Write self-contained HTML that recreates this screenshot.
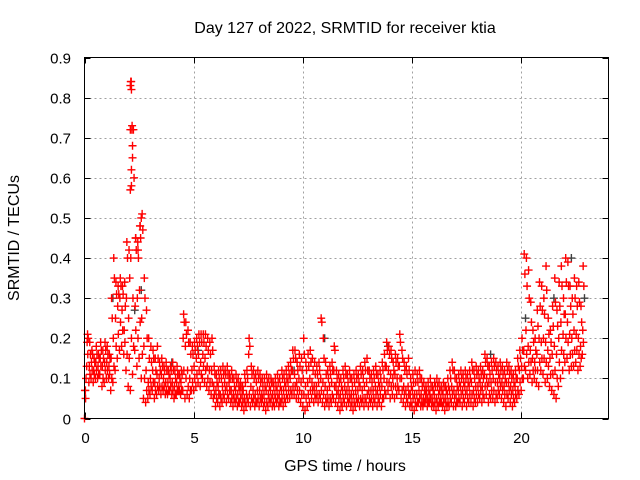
<!DOCTYPE html>
<html><head><meta charset="utf-8"><style>
body{margin:0;background:#fff}
svg{display:block;font-family:"Liberation Sans",sans-serif}
</style></head><body>
<svg id="chart" width="640" height="480">
<rect width="640" height="480" fill="#fff"/>
<text x="345" y="33" font-size="16" text-anchor="middle">Day 127 of 2022, SRMTID for receiver ktia</text>
<text x="345" y="471" font-size="16" text-anchor="middle">GPS time / hours</text>
<text x="0" y="0" font-size="16" text-anchor="middle" transform="translate(19,238) rotate(-90)">SRMTID / TECUs</text>
<g id="grid"></g>
<g id="ticks"></g>
<g id="marks"></g>
<rect x="84.5" y="57.5" width="524" height="361" fill="none" stroke="#000" stroke-width="1"/>
</svg>
<script>
const xTicks=[0,5,10,15,20];
const yTicks=[0,0.1,0.2,0.3,0.4,0.5,0.6,0.7,0.8,0.9];
const yTickLabels=["0","0.1","0.2","0.3","0.4","0.5","0.6","0.7","0.8","0.9"];
const timeStep=0.1;
const hiVals=[0.07,0.21,0.19,0.17,0.15,0.18,0.16,0.19,0.17,0.19,
0.18,0.16,0.30,0.40,0.34,0.33,0.35,0.33,0.34,0.44,
0.42,0.84,0.72,0.45,0.44,0.48,0.51,0.35,0.27,0.20,
0.18,0.17,0.15,0.18,0.14,0.15,0.13,0.14,0.12,0.13,
0.14,0.12,0.13,0.11,0.12,0.26,0.24,0.22,0.19,0.18,
0.19,0.20,0.21,0.21,0.21,0.21,0.20,0.19,0.20,0.13,
0.11,0.12,0.12,0.13,0.12,0.13,0.11,0.12,0.10,0.11,
0.10,0.09,0.08,0.11,0.12,0.20,0.13,0.12,0.11,0.12,
0.11,0.10,0.10,0.11,0.10,0.10,0.09,0.10,0.11,0.10,
0.12,0.11,0.12,0.13,0.14,0.17,0.17,0.14,0.16,0.15,
0.20,0.14,0.16,0.17,0.15,0.14,0.13,0.14,0.25,0.20,
0.14,0.12,0.13,0.14,0.18,0.12,0.11,0.10,0.12,0.13,
0.11,0.12,0.10,0.11,0.12,0.11,0.13,0.12,0.14,0.15,
0.12,0.11,0.12,0.13,0.11,0.12,0.14,0.16,0.19,0.18,
0.17,0.14,0.16,0.15,0.21,0.17,0.14,0.13,0.15,0.10,
0.11,0.12,0.11,0.12,0.10,0.09,0.08,0.09,0.10,0.08,
0.09,0.10,0.09,0.08,0.09,0.08,0.10,0.12,0.14,0.12,
0.10,0.11,0.12,0.11,0.12,0.11,0.12,0.14,0.12,0.13,
0.12,0.13,0.12,0.16,0.15,0.13,0.14,0.15,0.14,0.13,
0.14,0.13,0.12,0.14,0.13,0.12,0.11,0.12,0.15,0.17,
0.20,0.41,0.40,0.37,0.29,0.22,0.20,0.27,0.34,0.33,
0.30,0.38,0.25,0.22,0.28,0.35,0.27,0.34,0.38,0.30,
0.40,0.39,0.33,0.30,0.35,0.33,0.34,0.28,0.38];
const upperVals=[0.10,0.20,0.16,0.16,0.14,0.16,0.15,0.17,0.15,0.17,
0.16,0.15,0.25,0.35,0.31,0.31,0.33,0.31,0.28,0.40,
0.35,0.72,0.60,0.42,0.40,0.45,0.47,0.30,0.20,0.15,
0.14,0.15,0.12,0.15,0.12,0.13,0.12,0.12,0.11,0.12,
0.12,0.10,0.11,0.10,0.11,0.24,0.21,0.19,0.16,0.16,
0.17,0.18,0.19,0.19,0.19,0.18,0.17,0.16,0.17,0.11,
0.09,0.10,0.10,0.11,0.11,0.11,0.10,0.10,0.08,0.09,
0.08,0.08,0.07,0.09,0.10,0.18,0.11,0.10,0.09,0.10,
0.09,0.08,0.08,0.09,0.08,0.09,0.08,0.08,0.09,0.08,
0.10,0.09,0.10,0.11,0.12,0.15,0.15,0.12,0.13,0.12,
0.16,0.12,0.13,0.14,0.12,0.11,0.11,0.12,0.24,0.15,
0.11,0.10,0.11,0.12,0.17,0.10,0.09,0.08,0.10,0.11,
0.09,0.10,0.08,0.09,0.10,0.09,0.11,0.10,0.12,0.12,
0.10,0.09,0.10,0.11,0.09,0.10,0.12,0.13,0.17,0.16,
0.15,0.12,0.14,0.13,0.19,0.15,0.12,0.11,0.12,0.08,
0.09,0.09,0.09,0.10,0.08,0.07,0.07,0.07,0.08,0.07,
0.08,0.08,0.07,0.07,0.08,0.07,0.08,0.10,0.12,0.10,
0.08,0.09,0.10,0.09,0.10,0.09,0.10,0.12,0.10,0.11,
0.10,0.11,0.10,0.14,0.13,0.11,0.12,0.13,0.12,0.11,
0.12,0.11,0.10,0.12,0.11,0.10,0.09,0.10,0.13,0.15,
0.17,0.36,0.33,0.30,0.24,0.19,0.17,0.23,0.28,0.27,
0.26,0.32,0.21,0.19,0.23,0.29,0.23,0.28,0.33,0.26,
0.34,0.33,0.28,0.26,0.30,0.28,0.29,0.24,0.33];
const midVals=[0.07,0.19,0.13,0.14,0.12,0.14,0.13,0.15,0.13,0.14,
0.14,0.13,0.15,0.20,0.25,0.28,0.30,0.27,0.22,0.30,
0.25,0.40,0.30,0.28,0.30,0.32,0.25,0.18,0.12,0.09,
0.10,0.12,0.09,0.11,0.10,0.11,0.10,0.09,0.09,0.10,
0.09,0.08,0.09,0.08,0.09,0.20,0.18,0.12,0.10,0.12,
0.13,0.15,0.16,0.14,0.16,0.15,0.13,0.12,0.12,0.08,
0.07,0.08,0.06,0.08,0.09,0.08,0.09,0.07,0.06,0.07,
0.06,0.07,0.06,0.05,0.06,0.16,0.08,0.07,0.06,0.07,
0.07,0.06,0.06,0.07,0.06,0.07,0.06,0.06,0.07,0.06,
0.07,0.07,0.08,0.09,0.10,0.12,0.11,0.09,0.10,0.09,
0.10,0.08,0.09,0.10,0.09,0.08,0.08,0.09,0.10,0.09,
0.08,0.07,0.08,0.09,0.12,0.08,0.07,0.06,0.07,0.08,
0.07,0.07,0.06,0.06,0.07,0.07,0.08,0.07,0.08,0.09,
0.07,0.07,0.07,0.08,0.07,0.08,0.08,0.10,0.13,0.12,
0.11,0.10,0.11,0.10,0.13,0.10,0.08,0.07,0.08,0.06,
0.07,0.06,0.06,0.07,0.06,0.05,0.06,0.05,0.06,0.05,
0.06,0.05,0.06,0.05,0.06,0.05,0.06,0.07,0.08,0.07,
0.06,0.07,0.08,0.07,0.08,0.07,0.08,0.09,0.07,0.08,
0.08,0.09,0.08,0.11,0.10,0.09,0.09,0.10,0.09,0.09,
0.10,0.09,0.08,0.09,0.09,0.08,0.07,0.08,0.10,0.12,
0.13,0.17,0.22,0.18,0.17,0.15,0.14,0.16,0.20,0.19,
0.20,0.19,0.17,0.15,0.16,0.18,0.16,0.20,0.24,0.21,
0.26,0.24,0.21,0.20,0.22,0.21,0.20,0.18,0.22];
const lowerVals=[0.05,0.16,0.11,0.12,0.11,0.12,0.11,0.13,0.10,0.12,
0.12,0.11,0.10,0.13,0.18,0.21,0.24,0.22,0.19,0.16,
0.15,0.20,0.18,0.22,0.20,0.24,0.16,0.10,0.07,0.07,
0.08,0.09,0.07,0.08,0.08,0.08,0.08,0.07,0.07,0.08,
0.07,0.06,0.07,0.07,0.07,0.12,0.10,0.08,0.07,0.09,
0.10,0.11,0.12,0.11,0.13,0.12,0.10,0.09,0.09,0.06,
0.05,0.06,0.05,0.06,0.07,0.06,0.07,0.05,0.05,0.05,
0.04,0.05,0.04,0.04,0.05,0.06,0.05,0.05,0.04,0.05,
0.05,0.05,0.04,0.04,0.05,0.05,0.04,0.05,0.05,0.04,
0.05,0.05,0.06,0.07,0.07,0.08,0.08,0.07,0.07,0.06,
0.06,0.05,0.06,0.07,0.07,0.06,0.06,0.06,0.07,0.06,
0.05,0.05,0.05,0.06,0.08,0.06,0.05,0.04,0.05,0.06,
0.05,0.05,0.04,0.04,0.05,0.05,0.05,0.05,0.05,0.06,
0.05,0.05,0.05,0.06,0.05,0.06,0.05,0.07,0.09,0.09,
0.08,0.08,0.08,0.08,0.10,0.07,0.06,0.05,0.06,0.04,
0.05,0.04,0.04,0.05,0.04,0.04,0.05,0.04,0.05,0.04,
0.04,0.04,0.04,0.04,0.04,0.04,0.04,0.05,0.06,0.05,
0.04,0.05,0.06,0.05,0.06,0.05,0.06,0.06,0.05,0.06,
0.06,0.07,0.06,0.08,0.08,0.06,0.07,0.07,0.06,0.07,
0.08,0.07,0.06,0.06,0.07,0.06,0.05,0.06,0.07,0.09,
0.10,0.13,0.16,0.14,0.14,0.12,0.12,0.12,0.14,0.15,
0.15,0.14,0.13,0.11,0.11,0.12,0.10,0.14,0.17,0.16,
0.20,0.19,0.16,0.16,0.17,0.17,0.16,0.15,0.19];
const loVals=[0.00,0.13,0.09,0.10,0.09,0.10,0.10,0.11,0.08,0.09,
0.10,0.10,0.07,0.09,0.12,0.15,0.17,0.18,0.16,0.12,
0.08,0.07,0.11,0.17,0.13,0.15,0.10,0.05,0.04,0.05,
0.06,0.07,0.05,0.06,0.07,0.06,0.07,0.06,0.06,0.07,
0.06,0.05,0.06,0.07,0.06,0.07,0.05,0.06,0.05,0.07,
0.07,0.08,0.09,0.08,0.10,0.09,0.08,0.07,0.06,0.05,
0.03,0.04,0.03,0.04,0.05,0.04,0.05,0.04,0.03,0.04,
0.03,0.04,0.03,0.02,0.03,0.04,0.03,0.04,0.03,0.04,
0.03,0.04,0.03,0.02,0.03,0.04,0.03,0.03,0.04,0.03,
0.04,0.03,0.04,0.05,0.05,0.06,0.06,0.05,0.05,0.04,
0.03,0.02,0.03,0.04,0.05,0.04,0.05,0.04,0.05,0.04,
0.03,0.04,0.03,0.04,0.05,0.04,0.03,0.02,0.03,0.04,
0.03,0.04,0.03,0.02,0.03,0.04,0.03,0.04,0.03,0.04,
0.03,0.04,0.03,0.04,0.03,0.04,0.03,0.05,0.06,0.07,
0.05,0.06,0.05,0.06,0.07,0.05,0.04,0.03,0.04,0.03,
0.03,0.02,0.03,0.04,0.03,0.03,0.04,0.03,0.04,0.03,
0.03,0.02,0.03,0.04,0.03,0.02,0.03,0.03,0.04,0.03,
0.03,0.04,0.04,0.03,0.04,0.03,0.04,0.04,0.03,0.04,
0.04,0.05,0.04,0.05,0.06,0.04,0.05,0.05,0.04,0.05,
0.06,0.05,0.04,0.03,0.05,0.04,0.03,0.04,0.05,0.06,
0.07,0.10,0.12,0.10,0.11,0.09,0.10,0.09,0.08,0.12,
0.11,0.09,0.10,0.08,0.07,0.06,0.05,0.08,0.10,0.12,
0.14,0.15,0.12,0.13,0.13,0.14,0.12,0.13,0.16];
const peakTimes=[2.1,2.12,2.15,2.1,2.18,2.2,2.2,2.15,2.1,2.15,2.35,2.45,2.55,2.6];
const peakVals=[0.83,0.84,0.82,0.72,0.73,0.68,0.65,0.62,0.57,0.58,0.45,0.42,0.48,0.50];
const blackTimes=[1.3,2.3,2.6,4.0,5.2,9.6,11.0,13.9,18.6,20.2,21.5,22.3,22.9];
const blackVals=[0.30,0.27,0.32,0.14,0.17,0.12,0.20,0.18,0.16,0.25,0.30,0.40,0.30];

const NS="http://www.w3.org/2000/svg";
const X0=84.5,X1=608.5,Y0=418.5,Y1=57.5;
function xs(t){return X0+(t/24)*(X1-X0);}
function ys(v){return Y0-(v/0.9)*(Y0-Y1);}
const grid=document.getElementById('grid'),ticks=document.getElementById('ticks'),marks=document.getElementById('marks');
function line(g,x1,y1,x2,y2,st,dash){const l=document.createElementNS(NS,'line');l.setAttribute('x1',x1);l.setAttribute('y1',y1);l.setAttribute('x2',x2);l.setAttribute('y2',y2);l.setAttribute('stroke',st);if(dash)l.setAttribute('stroke-dasharray',dash);g.appendChild(l);return l;}
function txt(s,x,y,anchor){const t=document.createElementNS(NS,'text');t.setAttribute('x',x);t.setAttribute('y',y);t.setAttribute('font-size','15');t.setAttribute('text-anchor',anchor);t.textContent=s;ticks.appendChild(t);return t;}
xTicks.forEach(function(v){
  const x=Math.round(xs(v))+0.5;
  if(v>0){const g=line(grid,x,Y0,x,Y1,'#a0a0a0','2,3');
  
  }
  const a=line(ticks,x,Y0,x,Y0-6,'#000');
  
  
  const b=line(ticks,x,Y1,x,Y1+6,'#000');
  
  
  const t=txt(String(v),x,443,'middle');
  
  
});
yTicks.forEach(function(v,i){
  const y=Math.round(ys(v))+0.5;
  if(v>0&&v<0.9){const g=line(grid,X0,y,X1,y,'#a0a0a0','2,3');
  
  }
  const a=line(ticks,X0,y,X0+6,y,'#000');
  
  
  const b=line(ticks,X1,y,X1-6,y,'#000');
  
  
  const t=txt(yTickLabels[i],71,y+5,'end');
  
  
});
function cross(t,v,color,name){
  const x=xs(t),y=ys(v);
  const p=document.createElementNS(NS,'path');
  p.setAttribute('d','M'+(x-4)+' '+y+'H'+(x+4)+'M'+x+' '+(y-4)+'V'+(y+4));
  p.setAttribute('stroke',color);p.setAttribute('stroke-width','1.4');
  
  
  marks.appendChild(p);
}
blackTimes.forEach(function(t,i){cross(t,blackVals[i],'#404040','black-point');});
const seriesSet=[loVals,lowerVals,midVals,upperVals,hiVals];
const shift=[0,0.05,0.02,0.07,0.04];
seriesSet.forEach(function(arr,k){
  arr.forEach(function(v,i){cross(i*timeStep+shift[k],v,'#ff0000','srmtid-point');});
});
peakTimes.forEach(function(t,i){cross(t,peakVals[i],'#ff0000','peak-point');});
</script>
</body></html>
